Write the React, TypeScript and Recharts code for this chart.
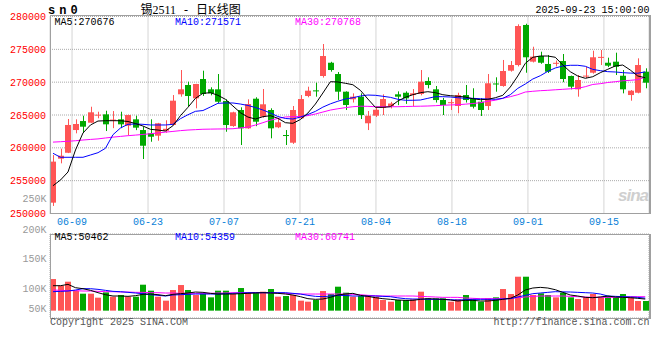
import React from 'react';
import { ComposedChart, Bar, Line, XAxis, YAxis, CartesianGrid } from 'recharts';

// 锡2511 daily candles, 2025-06-04 .. 2025-09-23
const DATES = [
  '06-04', '06-05', '06-06', '06-09', '06-10', '06-11', '06-12', '06-13', '06-16', '06-17',
  '06-18', '06-19', '06-20', '06-23', '06-24', '06-25', '06-26', '06-27', '06-30', '07-01',
  '07-02', '07-03', '07-04', '07-07', '07-08', '07-09', '07-10', '07-11', '07-14', '07-15',
  '07-16', '07-17', '07-18', '07-21', '07-22', '07-23', '07-24', '07-25', '07-28', '07-29',
  '07-30', '07-31', '08-01', '08-04', '08-05', '08-06', '08-07', '08-08', '08-11', '08-12',
  '08-13', '08-14', '08-15', '08-18', '08-19', '08-20', '08-21', '08-22', '08-25', '08-26',
  '08-27', '08-28', '08-29', '09-01', '09-02', '09-03', '09-04', '09-05', '09-08', '09-09',
  '09-10', '09-11', '09-12', '09-15', '09-16', '09-17', '09-18', '09-19', '09-22', '09-23',
];

const OPEN = [
  251650, 258350, 259250, 262710, 264080, 263830, 264950, 265100, 264200, 264340,
  263370, 264340, 262710, 262210, 261850, 262600, 263480, 268150, 269570, 267540,
  270480, 268910, 268910, 267130, 263320, 265760, 262970, 267480, 264740, 265760,
  263130, 261950, 260780, 264500, 267890, 268750, 270940, 272960, 271240, 268550,
  267390, 267790, 263740, 264900, 266070, 266370, 268150, 268390, 268040, 268200,
  270180, 268910, 267280, 266800, 266370, 268040, 267540, 267020, 266370, 269800,
  269420, 271750, 272610, 278710, 273120, 273980, 272770, 272800, 273220, 270940,
  268910, 270900, 271440, 273750, 272960, 273120, 270980, 268040, 268390, 271590,
];
const HIGH = [
  258900, 259870, 264390, 264340, 264890, 266260, 265500, 265650, 265600, 265500,
  265050, 264900, 263220, 264340, 263800, 264200, 268040, 271850, 270070, 269750,
  271750, 269220, 271240, 267400, 265500, 266170, 267390, 267700, 268960, 266020,
  264500, 262710, 266370, 268040, 269310, 269920, 275810, 273100, 271550, 268600,
  268300, 268300, 265610, 266100, 268150, 267000, 268600, 268600, 268960, 271850,
  270740, 269420, 267600, 267400, 268390, 269570, 269070, 267590, 271240, 270740,
  273380, 273220, 278810, 278900, 275400, 274640, 274140, 273300, 274290, 271000,
  271090, 272350, 274790, 274900, 273730, 274490, 271850, 268800, 273630, 272110,
];
const LOW = [
  251150, 257640, 259200, 262210, 262260, 263800, 264500, 262560, 263000, 263000,
  261950, 262700, 258300, 260930, 261080, 262300, 263400, 267790, 266370, 266020,
  267900, 268000, 266800, 262450, 263200, 260430, 262900, 263300, 264600, 261450,
  263000, 260430, 260600, 264400, 267700, 267790, 270700, 271600, 267300, 265760,
  266900, 264390, 262710, 264700, 265000, 266000, 266500, 266700, 266350, 268000,
  269060, 266900, 265000, 265760, 265260, 266900, 266000, 264850, 265760, 268550,
  269300, 271600, 272400, 271440, 273000, 272800, 271400, 272400, 270000, 268910,
  267790, 270600, 271300, 272610, 272300, 271090, 268300, 267180, 268300, 269070,
];
const CLOSE = [
  257900, 258800, 263480, 263630, 263220, 265410, 265050, 263580, 264300, 263580,
  265000, 263070, 260320, 261690, 263740, 262900, 267180, 268910, 267890, 269720,
  268200, 268300, 267020, 263480, 265410, 262970, 266670, 263980, 266630, 262970,
  263890, 261800, 265760, 267430, 268700, 268650, 273980, 271850, 268550, 266520,
  267790, 265000, 264890, 265800, 267430, 266750, 267790, 267540, 268300, 270070,
  269570, 267280, 266520, 266950, 268040, 267280, 266260, 265760, 269830, 269650,
  271700, 272610, 278550, 273790, 273880, 272960, 271590, 272950, 270480, 269310,
  270330, 271000, 273790, 273850, 272510, 272350, 268910, 268700, 272610, 269920,
];
const VOLUME = [
  137750, 108750, 126150, 87000, 73950, 73950, 56550, 79750, 60900, 68150,
  60900, 60900, 113100, 87000, 60900, 43500, 89900, 111650, 89900, 68150,
  75400, 58000, 87000, 87000, 72500, 98600, 78300, 78300, 82650, 94250,
  60900, 63800, 68150, 43500, 39150, 46400, 85550, 72500, 104400, 78300,
  60900, 63800, 68150, 60900, 46400, 39150, 46400, 46400, 49300, 82650,
  53650, 53650, 53650, 39150, 49300, 68150, 49300, 39150, 53650, 58000,
  94250, 72500, 147900, 147900, 68150, 75400, 68150, 58000, 78300, 58000,
  50750, 58000, 72500, 60900, 63800, 58000, 72500, 58000, 42050, 42050,
];

const MA5 = [
  254230, 255100, 256320, 259670, 262260, 263480, 264080, 264130, 264130, 264130,
  264010, 263700, 263320, 262820, 262710, 262560, 263370, 264900, 266170, 267540,
  268300, 268400, 268000, 267390, 266370, 265350, 264690, 264390, 264740, 264900,
  264500, 263830, 263730, 264310, 265300, 266670, 268350, 270070, 270030, 269830,
  269610, 268760, 267440, 266170, 266170, 266260, 267130, 267690, 268090, 268400,
  268550, 268400, 268090, 267940, 267850, 267740, 267480, 267330, 267390, 267630,
  268000, 269260, 270940, 272870, 273790, 273980, 273980, 273790, 272610, 271590,
  270940, 270590, 270830, 271440, 271960, 272460, 272610, 271850, 270940, 270676,
];
const MA10 = [
  259170, 258560, 258560, 258560, 258560, 258910, 259260, 259930, 262000, 263020,
  263580, 263630, 263580, 263480, 263480, 263480, 263580, 264440, 265040, 265560,
  265680, 266220, 266780, 266830, 266830, 266670, 266450, 266140, 265760, 265300,
  264770, 264470, 264390, 264690, 265080, 265550, 266200, 266700, 267100, 267430,
  267630, 267890, 268040, 268000, 267850, 267690, 267390, 267240, 267240, 267280,
  267540, 267790, 267790, 267740, 267630, 267540, 267540, 267480, 267430, 267390,
  267540, 268090, 269060, 269720, 270480, 270980, 271650, 272160, 272460, 272570,
  272570, 272420, 271950, 271750, 271600, 271550, 271450, 271380, 271360, 271571,
];
const MA30 = [
  260870, 260930, 261000, 261080, 261190, 261280, 261360, 261500, 261630, 261740,
  261850, 261940, 262040, 262150, 262270, 262390, 262500, 262620, 262710, 262770,
  262830, 262850, 262870, 262880, 262910, 263030, 263170, 263470, 263830, 264210,
  264470, 264700, 264750, 264760, 264910, 265150, 265450, 265750, 265950, 266120,
  266260, 266340, 266320, 266260, 266260, 266260, 266260, 266290, 266320, 266340,
  266370, 266420, 266480, 266530, 266570, 266650, 266750, 266870, 267090, 267250,
  267540, 267790, 268090, 268500, 268610, 268700, 268760, 268840, 268910, 268990,
  269060, 269310, 269650, 269770, 269950, 270070, 270210, 270280, 270380, 270768,
];

const VMA5 = [
  108750, 108750, 114550, 100050, 95700, 88450, 78300, 69600, 63800, 63800,
  62350, 65250, 71050, 72500, 69600, 65250, 71050, 73950, 76850, 81200,
  79750, 75400, 72500, 72500, 72500, 73950, 75400, 76850, 78300, 76850,
  75400, 72500, 68150, 60900, 52200, 49300, 50750, 58000, 68150, 72500,
  75400, 66700, 62350, 56550, 52200, 49300, 46400, 44950, 44950, 49300,
  52200, 50750, 49300, 46400, 42050, 44950, 44950, 42050, 42050, 44950,
  49300, 53650, 68150, 89900, 98600, 101500, 98600, 91350, 79750, 68150,
  63800, 58000, 56550, 59450, 63800, 59450, 58000, 56550, 53650, 50462,
];
const VMA10 = [
  82650, 84100, 85550, 89900, 95700, 95700, 92800, 88450, 84100, 82650,
  79750, 76850, 73950, 69600, 66700, 63800, 68150, 69600, 71050, 72500,
  72500, 72500, 72500, 73950, 75400, 76850, 78300, 78300, 78300, 78300,
  78300, 78300, 75400, 72500, 66700, 62350, 60900, 63800, 66700, 65980,
  63800, 63800, 63800, 63800, 62350, 60900, 55830, 52200, 50750, 50750,
  49300, 49300, 49300, 47850, 46400, 47850, 49300, 49300, 49300, 49300,
  50750, 52200, 59450, 66700, 73950, 76850, 79750, 82650, 81930, 81200,
  79750, 78300, 76850, 72500, 63800, 62350, 60900, 59450, 58000, 54359,
];
const VMA30 = [
  89900, 88450, 87000, 87000, 85550, 85550, 84100, 82650, 82650, 81200,
  81200, 79750, 79750, 78300, 78300, 76850, 76850, 75400, 75400, 75400,
  75400, 75400, 76850, 76850, 78300, 78300, 78300, 78300, 78300, 78300,
  76850, 75400, 73950, 72500, 72500, 72500, 72500, 72500, 72500, 72500,
  71050, 69600, 66700, 65250, 63800, 63800, 63800, 63800, 63800, 62350,
  60900, 59450, 58000, 58000, 58000, 55100, 53650, 52200, 52200, 52200,
  52200, 53650, 56550, 59450, 62350, 63800, 63800, 63800, 63800, 62350,
  60900, 59450, 58000, 58000, 58000, 58000, 59450, 60900, 60900, 60741,
];

const PRICE_TICKS = [250000, 255000, 260000, 265000, 270000, 275000, 280000];
const DATE_LABELS = ['06-09', '06-23', '07-07', '07-21', '08-04', '08-18', '09-01', '09-15'];
const VOL_LABELS = ['250K', '200K', '150K', '100K', '50K'];

// date grid lines are evenly spaced by the chart, not exactly on candles
const GRID_START = 2.54;
const GRID_STEP = 10.135;
const DATE_TICKS = DATE_LABELS.map((_, k) => GRID_START + k * GRID_STEP);
const VOL_GRID = [68000, 155000, 242000];

const RED = '#ff5555';
const GREEN = '#00a800';
const MONO = '"Liberation Mono", "DejaVu Sans Mono", monospace';

const rows = DATES.map((date, i) => ({
  i,
  date,
  open: OPEN[i],
  high: HIGH[i],
  low: LOW[i],
  close: CLOSE[i],
  range: [LOW[i], HIGH[i]],
  vol: VOLUME[i],
  ma5: MA5[i],
  ma10: MA10[i],
  ma30: MA30[i],
  vma5: VMA5[i],
  vma10: VMA10[i],
  vma30: VMA30[i],
}));

const Candle = (props: any) => {
  const { x, y, width, height, payload } = props;
  if (x == null || !payload) return null;
  const { open, close, high, low } = payload;
  const top = Math.min(y, y + height);
  const h = Math.abs(height);
  const toY = (v: number) => top + ((high - v) / (high - low || 1)) * h;
  const color = close >= open ? RED : GREEN;
  const bx = Math.round(x + width / 2 - 3);
  const bTop = toY(Math.max(open, close));
  const bBot = toY(Math.min(open, close));
  return (
    <g>
      <rect x={bx + 3} y={top} width={1} height={h} fill={color} />
      <rect x={bx} y={bTop} width={6} height={Math.max(1, bBot - bTop)} fill={color} />
    </g>
  );
};

const VolBar = (props: any) => {
  const { x, y, width, height, payload } = props;
  if (x == null || !payload) return null;
  const color = payload.close >= payload.open ? RED : GREEN;
  const bx = Math.round(x + width / 2 - 3);
  return <rect x={bx} y={Math.min(y, y + height)} width={6} height={Math.abs(height)} fill={color} />;
};

const Txt = ({ x, y, right, color = '#000', size = 10, bold, family = MONO, children, extra }: any) => (
  <div
    style={{
      position: 'absolute',
      left: right == null ? x : undefined,
      right: right != null ? 660 - right : undefined,
      top: y - size / 2 - 0.5,
      fontFamily: family,
      fontSize: size,
      lineHeight: `${size}px`,
      fontWeight: bold ? 'bold' : 'normal',
      color,
      whiteSpace: 'pre',
      ...extra,
    }}
  >
    {children}
  </div>
);

export default function App() {
  return (
    <div style={{ position: 'absolute', left: 0, top: 0, width: 660, height: 360, background: '#fff', overflow: 'hidden' }}>
      {/* price panel */}
      <div style={{ position: 'absolute', left: 0, top: 0 }}>
        <ComposedChart width={660} height={230} data={rows} margin={{ top: 16.5, right: 11, bottom: 0, left: 0 }}>
          <CartesianGrid stroke="#aaa" strokeDasharray="1 1" />
          <XAxis
            dataKey="i"
            type="number"
            domain={[-0.4, 79.5]}
            ticks={DATE_TICKS}
            tickFormatter={(_v: number, idx: number) => DATE_LABELS[idx]}
            height={16.5}
            tickSize={0}
            tickMargin={4.5}
            axisLine={false}
            tickLine={false}
            tick={{ fill: '#0a7fd8', fontSize: 10, fontFamily: MONO }}
            allowDataOverflow
          />
          <YAxis
            domain={[250000, 280000]}
            ticks={PRICE_TICKS}
            width={50}
            tickSize={0}
            tickMargin={4}
            axisLine={false}
            tickLine={false}
            tick={{ fill: '#f00', fontSize: 10, fontFamily: MONO }}
            allowDataOverflow
          />
          <Bar dataKey="range" barSize={6} shape={<Candle />} isAnimationActive={false} />
          <Line dataKey="ma30" stroke="#ff00ff" strokeWidth={1} dot={false} isAnimationActive={false} />
          <Line dataKey="ma10" stroke="#0000ff" strokeWidth={1} dot={false} isAnimationActive={false} />
          <Line dataKey="ma5" stroke="#000" strokeWidth={1} dot={false} isAnimationActive={false} />
        </ComposedChart>
      </div>

      {/* volume panel */}
      <div style={{ position: 'absolute', left: 0, top: 230 }}>
        <ComposedChart width={660} height={100} data={rows} margin={{ top: 4, right: 11, bottom: 12, left: 0 }}>
          <CartesianGrid stroke="#aaa" strokeDasharray="1 1" />
          <XAxis
            dataKey="i"
            type="number"
            domain={[-0.4, 79.5]}
            ticks={DATE_TICKS}
            height={0}
            tick={false}
            axisLine={false}
            tickLine={false}
            allowDataOverflow
          />
          <YAxis
            domain={[-32000, 334000]}
            ticks={VOL_GRID}
            width={50}
            tick={false}
            axisLine={false}
            tickLine={false}
            allowDataOverflow
          />
          <Bar dataKey="vol" barSize={6} shape={<VolBar />} isAnimationActive={false} />
          <Line dataKey="vma30" stroke="#ff00ff" strokeWidth={1} dot={false} isAnimationActive={false} />
          <Line dataKey="vma10" stroke="#0000ff" strokeWidth={1} dot={false} isAnimationActive={false} />
          <Line dataKey="vma5" stroke="#000" strokeWidth={1} dot={false} isAnimationActive={false} />
        </ComposedChart>
      </div>

      {/* panel frames */}
      <div style={{ position: 'absolute', left: 50, top: 15, width: 598, height: 197, border: '1px solid #a0a0a0', borderRightWidth: 2, pointerEvents: 'none' }} />
      <div style={{ position: 'absolute', left: 50, top: 234, width: 598, height: 83, border: '1px solid #a0a0a0', borderRightWidth: 2, pointerEvents: 'none' }} />

      {/* header */}
      <Txt x={48} y={11.5} size={12} bold extra={{ letterSpacing: 4 }}>sn0</Txt>
      <Txt x={140.5} y={10} size={12} family={'"Liberation Serif", "Noto Sans CJK SC", serif'} extra={{ wordSpacing: 5 }}>
        锡2511 - 日K线图
      </Txt>
      <Txt right={649.5} y={11.3}>2025-09-23 15:00:00</Txt>

      <Txt x={54.5} y={23.3}>MA5:270676</Txt>
      <Txt x={175} y={23.3} color="#0000ff">MA10:271571</Txt>
      <Txt x={295} y={23.3} color="#ff00ff">MA30:270768</Txt>

      {/* volume labels (the chart draws them offset from its grid) */}
      {VOL_LABELS.map((t, k) => (
        <Txt key={t} right={46.5} y={[200.5, 231.7, 260.7, 290.7, 310][k]} color="#999">{t}</Txt>
      ))}

      <Txt x={54.5} y={238.5}>MA5:50462</Txt>
      <Txt x={175} y={238.5} color="#0000ff">MA10:54359</Txt>
      <Txt x={295} y={238.5} color="#ff00ff">MA30:60741</Txt>

      <Txt x={50} y={323.5} color="#555">Copyright 2025 SINA.COM</Txt>
      <Txt right={649.5} y={323.5} color="#555">http://finance.sina.com.cn</Txt>

      <Txt x={618} y={196} size={17} bold color="#cfcfcf" family={'"Liberation Sans", Arial, sans-serif'} extra={{ fontStyle: 'italic', letterSpacing: -1 }}>
        sina
      </Txt>
    </div>
  );
}
